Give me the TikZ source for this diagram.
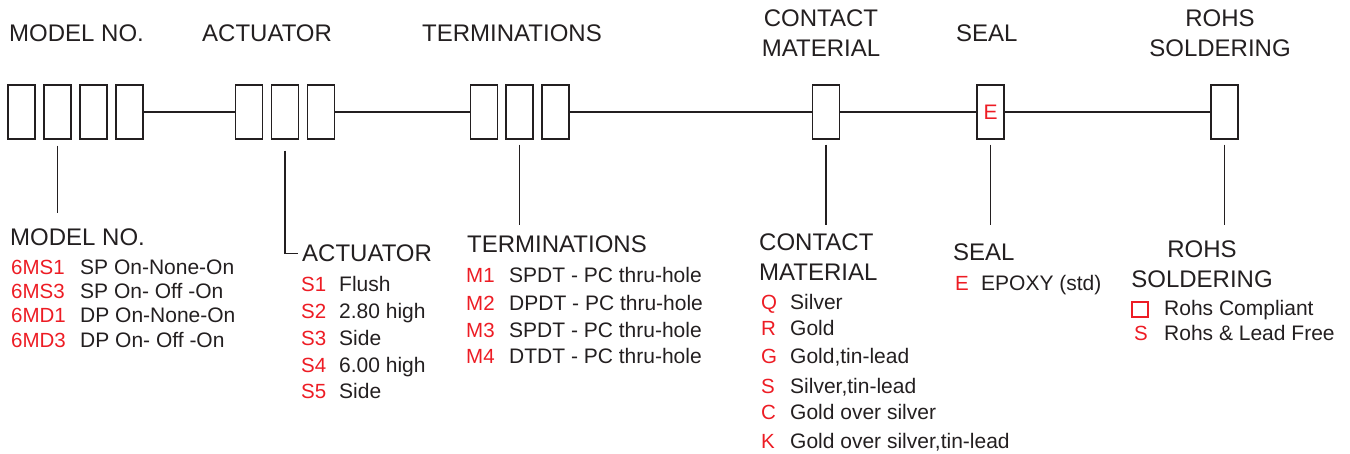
\documentclass[tikz,border=0pt]{standalone}
\usepackage{fontspec}
\setmainfont{Liberation Sans}
\definecolor{codered}{RGB}{237,28,36}
\definecolor{ink}{RGB}{35,31,32}
\tikzset{
  cell/.style={draw=ink, line width=1.2pt, minimum width=27pt, minimum height=54pt, inner sep=0pt},
  head/.style={anchor=base west, inner sep=0pt, text=ink, font=\fontsize{24}{30}\selectfont},
  key/.style={anchor=base west, inner sep=0pt, text=codered, font=\fontsize{20.5}{24}\selectfont},
  item/.style={anchor=base west, inner sep=0pt, text=ink, font=\fontsize{21}{24}\selectfont},
  wire/.style={draw=ink, line width=1.2pt}
}
\begin{document}
\begin{tikzpicture}[x=1pt,y=-1pt]
\useasboundingbox (0,0) rectangle (1350,454);

% Top labels (two-line nodes sit on their last baseline)
\node[head] (tmod) at (9,42) {MODEL NO.};
\node[head] (tact) at (202,42) {ACTUATOR};
\node[head] (tter) at (422,42) {TERMINATIONS};
\node[head,anchor=base,align=center] (tcon) at (821,57) {CONTACT\\MATERIAL};
\node[head] (tsea) at (956,42) {SEAL};
\node[head,anchor=base,align=center] (troh) at (1220,57) {ROHS\\SOLDERING};

% Code boxes
\foreach \i/\x in {1/21.5,2/57.5,3/93.5,4/129.5}
  \node[cell] (mod\i) at (\x,112) {};
\foreach \i/\x in {1/249,2/285,3/321}
  \node[cell] (act\i) at (\x,112) {};
\foreach \i/\x in {1/484,2/519.5,3/555.5}
  \node[cell] (ter\i) at (\x,112) {};
\node[cell] (con) at (826,112) {};
\node[cell,text=codered,font=\fontsize{21}{24}\selectfont] (sea) at (990.5,112) {E};
\node[cell] (roh) at (1224.5,112) {};

% Line through the groups
\draw[wire] (mod4.east) -- (act1.west);
\draw[wire] (act3.east) -- (ter1.west);
\draw[wire] (ter3.east) -- (con.west);
\draw[wire] (con.east) -- (sea.west);
\draw[wire] (sea.east) -- (roh.west);

% Bottom headings
\node[head] (bmod) at (10,246) {MODEL NO.};
\node[head] (bact) at (302,262) {ACTUATOR};
\node[head] (bter) at (467,253) {TERMINATIONS};
\node[head,align=left] (bcon) at (759,281) {CONTACT\\MATERIAL};
\node[head] (bsea) at (953,261) {SEAL};
\node[head,anchor=base,align=center] (broh) at (1202,288) {ROHS\\SOLDERING};

% Drop lines
\draw[wire] ([yshift=-6pt]mod2.south) -- ([yshift=-73pt]mod2.south);
\draw[wire] ([yshift=-11pt]act2.south) |- ([xshift=-4pt]bact.west);
\foreach \b in {ter2,con,sea,roh}
  \draw[wire] ([yshift=-5pt]\b.south) -- ([yshift=-85pt]\b.south);

% Model no.
\foreach \y/\k/\t [count=\n] in {275/6MS1/SP On-None-On, 299/6MS3/SP On- Off -On,
    323/6MD1/DP On-None-On, 348/6MD3/DP On- Off -On} {
  \node[key] (kmod\n) at (11,\y) {\k};
  \node[item] (imod\n) at (80,\y) {\t};
}

% Actuator
\foreach \y/\k/\t [count=\n] in {292/S1/Flush, 319/S2/2.80 high, 346/S3/Side,
    373/S4/6.00 high, 399/S5/Side} {
  \node[key] (kact\n) at (301,\y) {\k};
  \node[item] (iact\n) at (339,\y) {\t};
}

% Terminations
\foreach \y/\k/\t [count=\n] in {283/M1/SPDT - PC thru-hole, 311/M2/DPDT - PC thru-hole,
    338/M3/SPDT - PC thru-hole, 364/M4/DTDT - PC thru-hole} {
  \node[key] (kter\n) at (466,\y) {\k};
  \node[item] (iter\n) at (509,\y) {\t};
}

% Contact material
\foreach \y/\k/\t [count=\n] in {310/Q/Silver, 336/R/Gold, 364/G/{Gold,tin-lead},
    394/S/{Silver,tin-lead}, 420/C/Gold over silver, 448/K/{Gold over silver,tin-lead}} {
  \node[key] (kcon\n) at (761,\y) {\k};
  \node[item] (icon\n) at (790,\y) {\t};
}

% Seal
\node[key] (ksea) at (955,291) {E};
\node[item] (isea) at (981,291) {EPOXY (std)};

% RoHS
\node[draw=codered, line width=1.2pt, minimum width=16pt, minimum height=15pt, inner sep=0pt] (kroh1) at (1140,309.5) {};
\node[item] (iroh1) at (1164,316) {Rohs Compliant};
\node[key] (kroh2) at (1134,341) {S};
\node[item] (iroh2) at (1164,341) {Rohs \& Lead Free};

\end{tikzpicture}
\end{document}
